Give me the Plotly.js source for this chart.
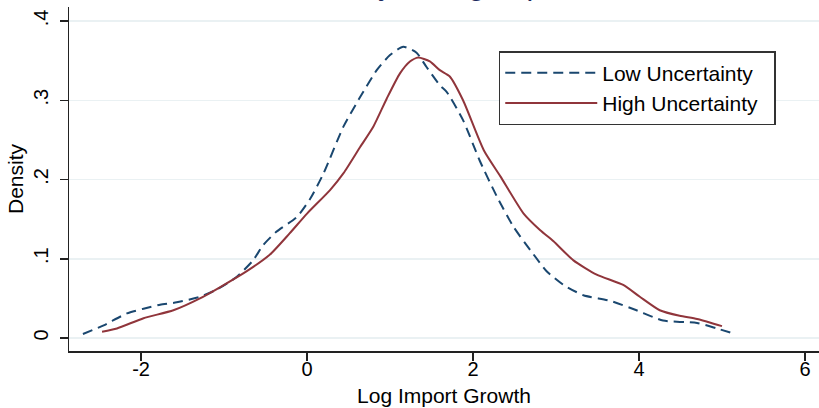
<!DOCTYPE html>
<html>
<head>
<meta charset="utf-8">
<script src="https://cdn.plot.ly/plotly-3.0.1.min.js"></script>
<style>html,body{margin:0;padding:0;background:#fff;}#chart{width:819px;height:408px;}</style>
</head>
<body>
<div id="chart"></div>
<script>
// Low Uncertainty kernel density
const lowX = [-2.70,-2.45,-2.17,-1.97,-1.77,-1.57,-1.29,-1.09,-0.85,-0.65,-0.53,-0.37,-0.12,0.04,0.20,0.44,0.64,0.84,1.00,1.16,1.32,1.44,1.60,1.68,1.88,2.08,2.29,2.49,2.69,2.89,3.09,3.33,3.65,3.97,4.29,4.70,4.94,5.16];
const lowY = [0.005,0.016,0.031,0.037,0.042,0.045,0.052,0.061,0.077,0.098,0.117,0.134,0.153,0.176,0.208,0.267,0.304,0.338,0.357,0.3675,0.360,0.342,0.319,0.311,0.275,0.224,0.178,0.140,0.111,0.084,0.067,0.054,0.047,0.035,0.022,0.019,0.012,0.005];
// High Uncertainty kernel density
const highX = [-2.47,-2.29,-1.97,-1.61,-1.29,-1.05,-0.73,-0.45,-0.21,0.00,0.28,0.44,0.64,0.80,0.96,1.12,1.24,1.34,1.48,1.60,1.72,1.88,2.13,2.33,2.61,2.81,2.97,3.21,3.49,3.81,4.01,4.25,4.49,4.70,5.00];
const highY = [0.008,0.012,0.025,0.035,0.050,0.064,0.084,0.105,0.132,0.157,0.187,0.208,0.241,0.267,0.302,0.334,0.349,0.354,0.349,0.338,0.330,0.300,0.237,0.204,0.157,0.136,0.122,0.098,0.080,0.067,0.052,0.035,0.028,0.024,0.015];
const seriesNames = ["Low Uncertainty","High Uncertainty"];
const yTickVals = [0,0.1,0.2,0.3,0.4];
const yTickText = ["0",".1",".2",".3",".4"];
const xTickVals = [-2,0,2,4,6];
const xTickText = ["-2","0","2","4","6"];
const titleText = "Kernel Density of Log Import Growth";

const FONT = "Liberation Sans, Arial, Helvetica, sans-serif";
const PAD = "\u00a0\u00a0";

const traces = [
  {x: lowX, y: lowY, type: "scatter", mode: "lines", name: seriesNames[0] + PAD,
   line: {color: "#1a476f", width: 2, dash: "10px,6px", shape: "spline", smoothing: 0.6}},
  {x: highX, y: highY, type: "scatter", mode: "lines", name: seriesNames[1] + PAD,
   line: {color: "#90353b", width: 2, shape: "spline", smoothing: 0.6}}
];

const layout = {
  width: 819, height: 408,
  margin: {l: 69, r: 0, t: 7, b: 57, pad: 0},
  paper_bgcolor: "#ffffff", plot_bgcolor: "#ffffff",
  font: {family: FONT, size: 21, color: "#000"},
  showlegend: true,
  legend: {
    x: 0.573, y: 0.872, xanchor: "left", yanchor: "top",
    bgcolor: "#ffffff", bordercolor: "#333333", borderwidth: 1.5,
    font: {family: FONT, size: 21, color: "#000"},
    itemwidth: 92, tracegroupgap: 0
  },
  xaxis: {
    range: [-2.868, 6.169], tickmode: "array", tickvals: xTickVals, ticktext: xTickText,
    showgrid: false, zeroline: false, showline: true, linecolor: "#222", linewidth: 1.5,
    ticks: "outside", ticklen: 8, tickwidth: 1.5, tickcolor: "#222", ticklabelstandoff: -9,
    tickfont: {family: FONT, size: 20, color: "#000"},
    title: {text: "Log Import Growth", font: {family: FONT, size: 21, color: "#000"}, standoff: 10}
  },
  yaxis: {
    range: [-0.0164, 0.4177], tickmode: "array", tickvals: yTickVals, ticktext: yTickText,
    tickangle: -90, showgrid: true, gridcolor: "#eaf1f3", gridwidth: 1.5,
    zeroline: false, showline: true, linecolor: "#222", linewidth: 1.5,
    ticks: "outside", ticklen: 8, tickwidth: 1.5, tickcolor: "#222", ticklabelstandoff: 4,
    tickfont: {family: FONT, size: 20, color: "#000"},
    title: {text: "Density", font: {family: FONT, size: 21, color: "#000"}, standoff: 0}
  },
  annotations: [{
    text: titleText, xref: "paper", yref: "paper", x: 0.4955, y: 1,
    xanchor: "center", yanchor: "bottom", yshift: 3.5, showarrow: false,
    font: {family: FONT, size: 30, color: "#1c2a5e"}
  }]
};

Plotly.newPlot("chart", traces, layout, {displayModeBar: false, staticPlot: true});
</script>
</body>
</html>
